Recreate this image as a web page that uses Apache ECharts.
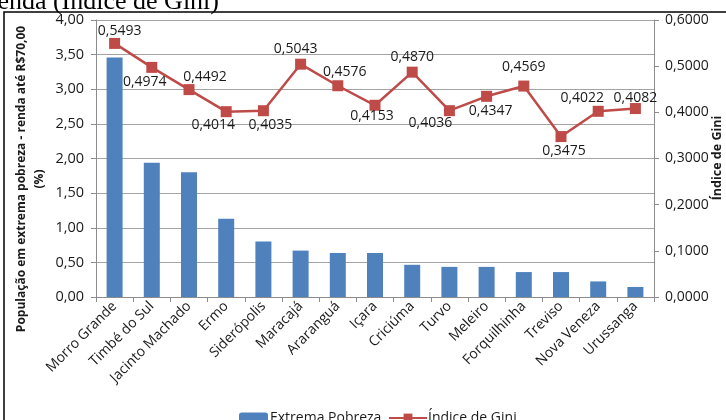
<!DOCTYPE html>
<html>
<head>
<meta charset="utf-8">
<script src="https://cdn.jsdelivr.net/npm/echarts@6/dist/echarts.min.js"></script>
<style>
  html, body { margin: 0; padding: 0; background: #fff; }
  #chart { width: 726px; height: 420px; }
</style>
</head>
<body>
<div id="chart"></div>
<script>
// Municípios (ordenados pela população em extrema pobreza)
const categories = [
  'Morro Grande', 'Timbé do Sul', 'Jacinto Machado', 'Ermo', 'Siderópolis',
  'Maracajá', 'Araranguá', 'Içara', 'Criciúma', 'Turvo', 'Meleiro',
  'Forquilhinha', 'Treviso', 'Nova Veneza', 'Urussanga'
];

// População em extrema pobreza - renda até R$70,00 (%)
const extremaPobreza = [3.46, 1.94, 1.80, 1.13, 0.80, 0.67, 0.635, 0.635, 0.465, 0.435, 0.435, 0.36, 0.36, 0.225, 0.145];

// Índice de Gini
const indiceGini = [0.5493, 0.4974, 0.4492, 0.4014, 0.4035, 0.5043, 0.4576, 0.4153, 0.4870, 0.4036, 0.4347, 0.4569, 0.3475, 0.4022, 0.4082];

// Eixos
const leftTicks = [0, 0.5, 1, 1.5, 2, 2.5, 3, 3.5, 4];
const rightTicks = [0, 0.1, 0.2, 0.3, 0.4, 0.5, 0.6];

// Deslocamento dos rótulos do Gini em relação a cada ponto
const giniLabelOffsets = [
  [5, -12], [-7, 15], [16, -13], [-13, 13], [7, 14], [-5, -15], [7, -14], [-3, 11],
  [0, -15], [-19, 12], [4, 15], [0, -19], [3, 14], [-16, -13], [0, -11]
];

const FONT = '"Open Sans", "DejaVu Sans", sans-serif';
const TXT = '#1a1a1a';
const ptBR = (v, d) => v.toFixed(d).replace('.', ',');

const chart = echarts.init(document.getElementById('chart'), null, { renderer: 'canvas' });

chart.setOption({
  animation: false,
  backgroundColor: '#fff',
  textStyle: { fontFamily: FONT },
  grid: { left: 96, right: 72, top: 20, bottom: 123, containLabel: false },
  legend: [
    {
      data: ['Extrema Pobreza'],
      left: 239, top: 411,
      itemWidth: 29, itemHeight: 11, itemGap: 0,
      textStyle: { fontFamily: FONT, fontSize: 14, color: TXT, padding: [0, 0, 0, -3] },
      padding: 0
    },
    {
      data: ['Índice de Gini'],
      left: 388, top: 411,
      itemWidth: 38, itemHeight: 11, itemGap: 0,
      textStyle: { fontFamily: FONT, fontSize: 14, color: TXT, padding: [0, 0, 0, -4] },
      padding: 0
    }
  ],
  xAxis: {
    type: 'category',
    data: categories,
    boundaryGap: true,
    axisLine: { lineStyle: { color: '#8c8c8c', width: 1 } },
    axisTick: { show: true, length: 5, lineStyle: { color: '#8c8c8c' } },
    axisLabel: {
      rotate: 45, interval: 0, margin: 7,
      fontFamily: FONT, fontSize: 14, color: TXT
    },
    splitLine: { show: false }
  },
  yAxis: [
    {
      type: 'value',
      min: leftTicks[0], max: leftTicks[leftTicks.length - 1], interval: 0.5,
      position: 'left',
      axisLine: { show: true, lineStyle: { color: '#8c8c8c' } },
      axisTick: { show: true, length: 5, lineStyle: { color: '#8c8c8c' } },
      axisLabel: {
        margin: 12, fontFamily: FONT, fontSize: 14.5, color: TXT,
        formatter: v => ptBR(v, 2)
      },
      splitLine: { show: true, lineStyle: { color: '#a3a3a3', width: 1 } }
    },
    {
      type: 'value',
      min: rightTicks[0], max: rightTicks[rightTicks.length - 1], interval: 0.1,
      position: 'right',
      axisLine: { show: true, lineStyle: { color: '#8c8c8c' } },
      axisTick: { show: true, length: 5, lineStyle: { color: '#8c8c8c' } },
      axisLabel: {
        margin: 11, fontFamily: FONT, fontSize: 14, color: TXT,
        formatter: v => ptBR(v, 4)
      },
      splitLine: { show: false }
    }
  ],
  series: [
    {
      name: 'Extrema Pobreza',
      type: 'bar',
      yAxisIndex: 0,
      barWidth: 16,
      itemStyle: { color: '#4f81bd' },
      data: extremaPobreza
    },
    {
      name: 'Índice de Gini',
      type: 'line',
      yAxisIndex: 1,
      symbol: 'rect',
      symbolSize: 11,
      lineStyle: { color: '#be4b48', width: 2.5 },
      itemStyle: { color: '#be4b48' },
      label: {
        show: true, position: 'inside',
        fontFamily: FONT, fontSize: 14, color: TXT,
        formatter: p => ptBR(p.value, 4)
      },
      data: indiceGini.map((v, i) => ({ value: v, label: { offset: giniLabelOffsets[i] } })),
      z: 5
    }
  ],
  graphic: [
    {
      type: 'rect',
      shape: { x: 4, y: 12, width: 740, height: 430 },
      style: { fill: null, stroke: '#000', lineWidth: 1.5 },
      silent: true
    },
    {
      type: 'text',
      x: 219, y: 15.5,
      style: {
        text: 'renda (Índice de Gini)',
        font: '26px "Liberation Serif", "Times New Roman", serif',
        fill: '#000', textAlign: 'right', textVerticalAlign: 'bottom'
      }
    },
    {
      type: 'text',
      x: 31, y: 179, rotation: Math.PI / 2,
      style: {
        text: 'População em extrema pobreza - renda até R$70,00\n(%)',
        font: 'bold 12px ' + FONT,
        lineHeight: 18,
        fill: TXT, textAlign: 'center', textVerticalAlign: 'middle'
      }
    },
    {
      type: 'text',
      x: 717, y: 158, rotation: Math.PI / 2,
      style: {
        text: 'Índice de Gini',
        font: 'bold 12.5px ' + FONT,
        fill: TXT, textAlign: 'center', textVerticalAlign: 'middle'
      }
    }
  ]
});
</script>
</body>
</html>
